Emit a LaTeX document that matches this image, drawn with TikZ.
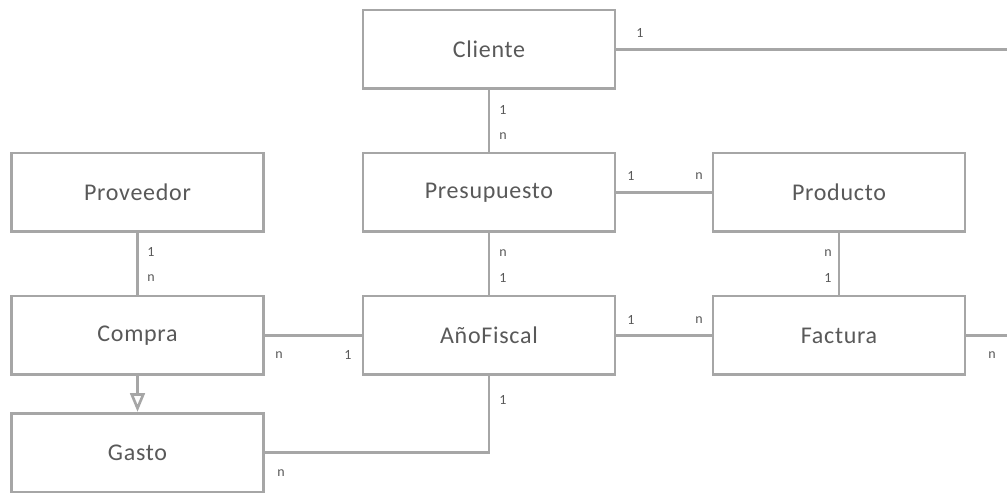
\documentclass[tikz,border=0pt]{standalone}
\usepackage{fontspec}
\setmainfont{Carlito}
\newfontfamily\boxfont[LetterSpace=3]{Carlito}
\newfontfamily\cardfont[LetterSpace=2]{Carlito}
\usetikzlibrary{arrows.meta}
\definecolor{edgegray}{HTML}{A6A6A6}
\definecolor{inkgray}{HTML}{595959}
\begin{document}
\begin{tikzpicture}[x=0.75pt,y=-0.75pt,
  entity/.style={draw=edgegray, line width=2pt, fill=white,
    minimum width=189pt, minimum height=59pt, inner sep=0pt,
    text=inkgray, font=\boxfont\fontsize{18}{21}\selectfont},
  link/.style={draw=edgegray, line width=2pt},
  card/.style={text=inkgray, inner sep=0pt, font=\cardfont\fontsize{10.5}{12}\selectfont}]
  \useasboundingbox (0,0) rectangle (1007,495);

  % entities
  \node[entity] (cliente)     at (489,49.5)    {Cliente};
  \node[entity] (proveedor)   at (137.5,192.5) {Proveedor};
  \node[entity] (presupuesto) at (489,192.5)   {Presupuesto};
  \node[entity] (producto)    at (839,192.5)   {Producto};
  \node[entity] (compra)      at (137.5,335.5) {Compra};
  \node[entity] (anio)        at (489,335.5)   {AñoFiscal};
  \node[entity] (factura)     at (839,335.5)   {Factura};
  \node[entity] (gasto)       at (137.5,452.5) {Gasto};

  % loose ends leaving the sheet on the right
  \coordinate (clienteOut) at (1010,49.5);
  \coordinate (facturaOut) at (1010,335.5);

  % relationships
  \draw[link] (cliente) -- (presupuesto);
  \draw[link] (cliente) -- (clienteOut);
  \draw[link] (presupuesto) -- (producto);
  \draw[link] (proveedor) -- (compra);
  \draw[link] (presupuesto) -- (anio);
  \draw[link] (producto) -- (factura);
  \draw[link] (compra) -- (anio);
  \draw[link] (anio) -- (factura);
  \draw[link] (factura) -- (facturaOut);
  \draw[link] (gasto.east) -| (anio.south);
  \draw[link, -{Triangle[open, length=14pt, width=11pt, line width=2pt]}] (compra) -- (gasto);

  % cardinalities
  \node[card] (c1)  at (640,33)  {1};
  \node[card] (c2)  at (503,110) {1};
  \node[card] (c3)  at (503,136) {n};
  \node[card] (c4)  at (631,176) {1};
  \node[card] (c5)  at (699,176) {n};
  \node[card] (c6)  at (151,252) {1};
  \node[card] (c7)  at (151,278) {n};
  \node[card] (c8)  at (503,253) {n};
  \node[card] (c9)  at (503,278) {1};
  \node[card] (c10) at (828,253) {n};
  \node[card] (c11) at (828,278) {1};
  \node[card] (c12) at (279,355) {n};
  \node[card] (c13) at (348,355) {1};
  \node[card] (c14) at (631,320) {1};
  \node[card] (c15) at (699,320) {n};
  \node[card] (c16) at (992,355) {n};
  \node[card] (c17) at (503,400) {1};
  \node[card] (c18) at (281,473) {n};
\end{tikzpicture}
\end{document}
